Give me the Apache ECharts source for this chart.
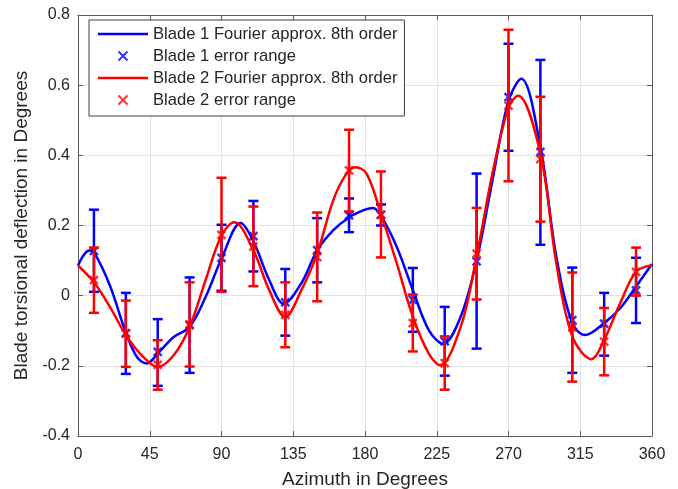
<!DOCTYPE html>
<html>
<head>
<meta charset="utf-8">
<script src="https://cdn.jsdelivr.net/npm/echarts@6/dist/echarts.min.js"></script>
<style>
html,body{margin:0;padding:0;background:#fff;}
#chart{width:678px;height:489px;}
</style>
</head>
<body>
<div id="chart"></div>
<script>
// azimuth of the measured points
var azimuth = [10,30,50,70,90,110,130,150,170,190,210,230,250,270,290,310,330,350];

// blade 1 : mean / lower / upper of the error range
var blade1Mean = [0.128,-0.107,-0.16,-0.084,0.108,0.17,-0.019,0.13,0.229,0.23,-0.012,-0.13,0.098,0.566,0.41,-0.07,-0.08,0.015];
var blade1Low  = [0.011,-0.223,-0.257,-0.22,0.014,0.069,-0.114,0.038,0.181,0.20,-0.103,-0.228,-0.151,0.413,0.145,-0.22,-0.171,-0.078];
var blade1High = [0.245,0.008,-0.067,0.052,0.202,0.27,0.076,0.221,0.277,0.26,0.079,-0.032,0.348,0.718,0.672,0.08,0.008,0.108];

// blade 2
var blade2Mean = [0.044,-0.108,-0.197,-0.082,0.173,0.14,-0.055,0.11,0.357,0.231,-0.078,-0.192,0.12,0.542,0.389,-0.09,-0.131,0.068];
var blade2Low  = [-0.049,-0.203,-0.268,-0.202,0.011,0.027,-0.147,-0.016,0.24,0.109,-0.159,-0.268,-0.011,0.326,0.211,-0.245,-0.227,0.0];
var blade2High = [0.137,-0.014,-0.127,0.038,0.336,0.254,0.038,0.237,0.473,0.354,0.003,-0.116,0.25,0.758,0.567,0.066,-0.035,0.137];

// fourier curves
var curve1Az  = [0,7,10,20,30,37,43,51,60,70,80,90,102,110,120,129,140,150,160,170,180,185,190,200,210,220,229,240,250,260,270,278,290,300,310,318,330,340,350,360];
var curve1Val = [0.086,0.129,0.124,0.029,-0.105,-0.175,-0.193,-0.16,-0.118,-0.089,-0.004,0.105,0.207,0.155,0.044,-0.023,0.035,0.129,0.186,0.223,0.245,0.25,0.228,0.138,0.016,-0.098,-0.137,-0.06,0.1,0.33,0.556,0.618,0.424,0.111,-0.078,-0.112,-0.078,-0.036,0.026,0.09];
var curve2Az  = [0,10,20,30,40,50,60,70,80,90,98,110,120,130,140,150,160,168,174,181,190,200,210,220,227,240,250,260,270,276,290,300,310,322,330,340,350,360];
var curve2Val = [0.086,0.038,-0.032,-0.112,-0.17,-0.203,-0.17,-0.089,0.044,0.172,0.209,0.129,0.015,-0.061,0.015,0.12,0.271,0.345,0.366,0.348,0.233,0.091,-0.06,-0.165,-0.198,-0.089,0.112,0.35,0.537,0.57,0.405,0.092,-0.116,-0.181,-0.126,-0.022,0.068,0.087];

var BLUE = '#0000ff', RED = '#ff0000', TXT = '#262626', AX = '#5a5a5a';
var FONT = 'Liberation Sans';
var XMARK = 'path://M0,0L10,10M0,10L10,0';
var LINEICON = 'path://M0,0L50,0L50,2.5L0,2.5Z';

function zip(a,b){
	var r = [];
	for(var i=0;i<a.length;i++) r.push([a[i],b[i]]);
	return r;
}
function zip3(a,b,c){
	var r = [];
	for(var i=0;i<a.length;i++) r.push([a[i],b[i],c[i]]);
	return r;
}
// error bar with caps
function renderErr(params, api){
	var x = api.value(0);
	var lo = api.coord([x, api.value(1)]);
	var hi = api.coord([x, api.value(2)]);
	var w = 5;
	var st = {stroke: api.visual('color'), lineWidth: 2.5};
	return {type:'group', children:[
		{type:'line', shape:{x1:lo[0],y1:lo[1],x2:hi[0],y2:hi[1]}, style:st},
		{type:'line', shape:{x1:lo[0]-w,y1:lo[1],x2:lo[0]+w,y2:lo[1]}, style:st},
		{type:'line', shape:{x1:hi[0]-w,y1:hi[1],x2:hi[0]+w,y2:hi[1]}, style:st}
	]};
}
function curveSeries(name, az, val, color, z){
	return {name:name, type:'line', data:zip(az,val), smooth:0.35, showSymbol:false, symbol:'none',
		lineStyle:{color:color, width:2.5}, itemStyle:{color:color}, emphasis:{disabled:true}, z:z};
}
function errSeries(name, lo, hi, color, z){
	return {name:name, type:'custom', renderItem:renderErr, data:zip3(azimuth,lo,hi),
		itemStyle:{color:color}, encode:{x:0, y:[1,2]}, z:z};
}
function markSeries(name, mean, color, z){
	return {name:name, type:'scatter', data:zip(azimuth,mean), symbol:XMARK, symbolSize:8,
		itemStyle:{color:color, borderColor:color, borderWidth:2.5}, emphasis:{disabled:true}, z:z};
}

var axisCommon = {
	type:'value',
	axisLine:{show:true, onZero:false, lineStyle:{color:AX, width:1}},
	axisTick:{show:true, inside:true, length:5, lineStyle:{color:AX}},
	splitLine:{show:false}
};

var option = {animation:false, backgroundColor:'#fff',
	grid:{left:78, right:26, top:15, bottom:53, outerBoundsMode:'none', containLabel:false}};

option.xAxis = [
	Object.assign({}, axisCommon, {min:0, max:360, interval:45, position:'bottom',
		name:'Azimuth in Degrees', nameLocation:'middle', nameGap:34,
		nameTextStyle:{color:TXT, fontSize:19, fontFamily:FONT},
		axisLabel:{color:TXT, fontSize:16, fontFamily:FONT, margin:11, showMaxLabel:true, showMinLabel:true},
		splitLine:{show:true, lineStyle:{color:'#e3e3e3', width:1}}}),
	Object.assign({}, axisCommon, {min:0, max:360, interval:45, position:'top', axisLabel:{show:false}})
];
option.yAxis = [
	Object.assign({}, axisCommon, {min:-0.4, max:0.8, interval:0.2, position:'left',
		name:'Blade torsional deflection in Degrees', nameLocation:'middle', nameGap:40,
		nameTextStyle:{color:TXT, fontSize:19, fontFamily:FONT},
		axisLabel:{color:TXT, fontSize:16, fontFamily:FONT, margin:8,
			formatter:function(v){ return String(Math.round(v*10)/10); }},
		splitLine:{show:true, lineStyle:{color:'#e3e3e3', width:1}}}),
	Object.assign({}, axisCommon, {min:-0.4, max:0.8, interval:0.2, position:'right', axisLabel:{show:false}})
];
option.legend = {
	left:89, top:20, orient:'vertical',
	backgroundColor:'#fff', borderColor:'#3c3c3c', borderWidth:1,
	padding:[5,7,7,9], itemGap:4, itemWidth:50, itemHeight:9,
	textStyle:{color:TXT, fontSize:16.6, fontFamily:FONT, lineHeight:18},
	selectedMode:false,
	data:[
		{name:'Blade 1 Fourier approx. 8th order', icon:LINEICON, itemStyle:{color:BLUE, borderWidth:0}},
		{name:'Blade 1 error range'},
		{name:'Blade 2 Fourier approx. 8th order', icon:LINEICON, itemStyle:{color:RED, borderWidth:0}},
		{name:'Blade 2 error range'}
	],
	z:10
};
// red drawn over blue
option.series = [
	curveSeries('Blade 1 Fourier approx. 8th order', curve1Az, curve1Val, BLUE, 2),
	errSeries('b1err', blade1Low, blade1High, BLUE, 3),
	markSeries('Blade 1 error range', blade1Mean, BLUE, 4),
	curveSeries('Blade 2 Fourier approx. 8th order', curve2Az, curve2Val, RED, 5),
	errSeries('b2err', blade2Low, blade2High, RED, 6),
	markSeries('Blade 2 error range', blade2Mean, RED, 7)
];

var myChart = echarts.init(document.getElementById('chart'));
myChart.setOption(option);
</script>
</body>
</html>
